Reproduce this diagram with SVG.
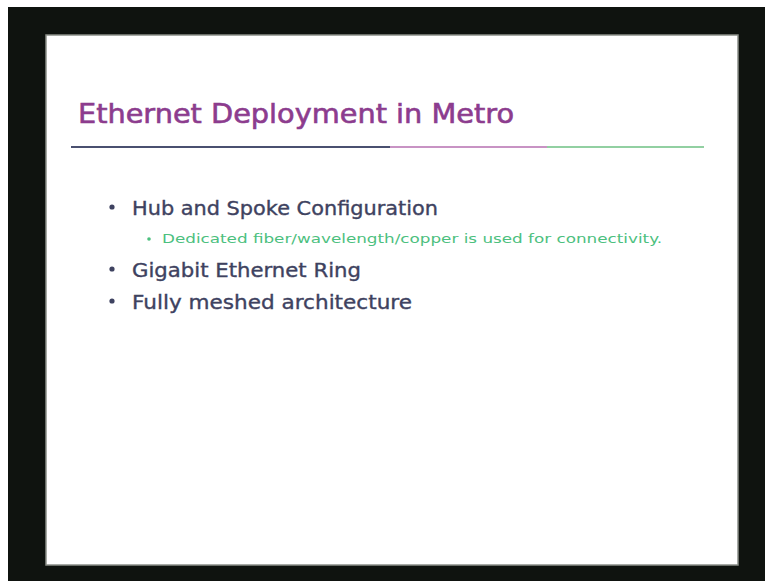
<svg xmlns="http://www.w3.org/2000/svg" width="765" height="581" viewBox="0 0 765 581">
<style>
.b{font-family:"DejaVu Sans","Liberation Sans",sans-serif;fill:#3e4260;stroke:#3e4260;stroke-width:0.35;font-size:19px}
.t{font-family:"DejaVu Sans","Liberation Sans",sans-serif;fill:#8c3c8e;stroke:#8c3c8e;stroke-width:0.6;font-size:27px}
.s{font-family:"DejaVu Sans","Liberation Sans",sans-serif;fill:#4cc07e;font-size:13px}
.d{fill:#3e4260}
</style>
<rect x="0" y="0" width="765" height="581" fill="#ffffff"/>
<rect x="8" y="7" width="757" height="574" fill="#0f130f"/>
<rect x="46" y="35" width="692" height="530" fill="#ffffff" stroke="#8a8e88" stroke-width="1.5"/>
<g id="title">
<text class="t" x="78" y="123" textLength="436" lengthAdjust="spacingAndGlyphs">Ethernet Deployment in Metro</text>
<line x1="71" y1="147" x2="390" y2="147" stroke="#4a5070" stroke-width="2"/>
<line x1="390" y1="147" x2="547" y2="147" stroke="#c893c4" stroke-width="2"/>
<line x1="547" y1="147" x2="704" y2="147" stroke="#92d0a2" stroke-width="2"/>
</g>
<g id="bullets">
<circle class="d" cx="112" cy="207" r="2.6"/>
<text class="b" x="132" y="215" textLength="306" lengthAdjust="spacingAndGlyphs">Hub and Spoke Configuration</text>
<circle cx="149" cy="239" r="1.8" fill="#4cc07e"/>
<text class="s" x="162" y="243" textLength="500" lengthAdjust="spacingAndGlyphs">Dedicated fiber/wavelength/copper is used for connectivity.</text>
<circle class="d" cx="112" cy="269" r="2.6"/>
<text class="b" x="132" y="277" textLength="229" lengthAdjust="spacingAndGlyphs">Gigabit Ethernet Ring</text>
<circle class="d" cx="112" cy="301" r="2.6"/>
<text class="b" x="132" y="309" textLength="280" lengthAdjust="spacingAndGlyphs">Fully meshed architecture</text>
</g>
</svg>
